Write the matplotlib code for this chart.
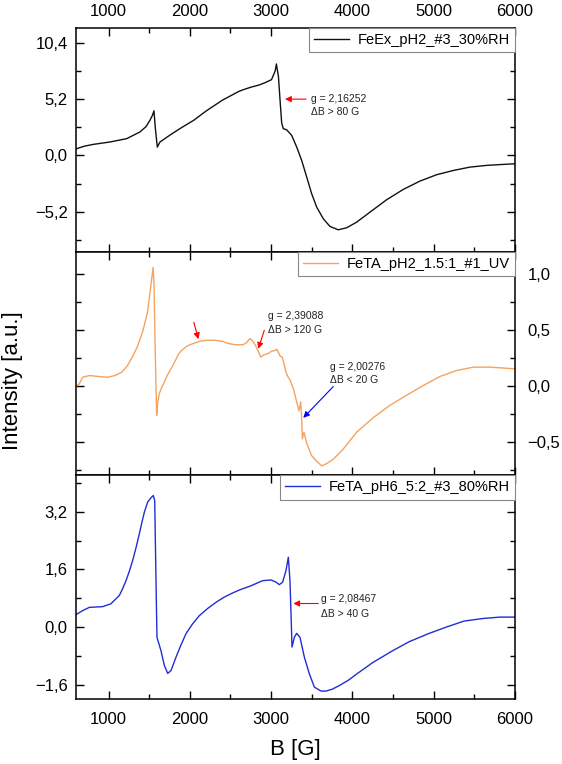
#!/usr/bin/env python3
"""
EPR spectra of three Fe samples, stacked panels
Output: out.png
"""

import matplotlib
matplotlib.use("Agg")
import matplotlib.pyplot as plt
import numpy as np

plt.rcParams['font.family'] = ['Liberation Sans', 'DejaVu Sans']

# =====================================
# Data
# =====================================
LABELS = ["FeEx_pH2_#3_30%RH", "FeTA_pH2_1.5:1_#1_UV", "FeTA_pH6_5:2_#3_80%RH"]
COLORS = ["#111111", "#F5A35E", "#1F2ED2"]

# top panel - black
B_EX = [600, 700, 813, 1018, 1224, 1387, 1460, 1510, 1540, 1559, 1575, 1600, 1633,
        1760, 1879, 2049, 2200, 2300, 2400, 2500, 2600, 2650, 2750, 2850, 2920,
        3005, 3050, 3065, 3090, 3110, 3130, 3150, 3191, 3253, 3315, 3376, 3438,
        3499, 3561, 3642, 3724, 3826, 3930, 4053, 4216, 4422, 4626, 4831, 5037,
        5241, 5446, 5652, 5830, 6000]
I_EX = [0.6, 0.85, 1.02, 1.24, 1.55, 2.17, 2.65, 3.25, 3.7, 4.12, 2.6, 0.77, 1.24,
        1.9, 2.48, 3.25, 4.1, 4.6, 5.1, 5.5, 5.9, 6.05, 6.3, 6.5, 6.7,
        7.0, 7.8, 8.45, 7.3, 5.1, 3.0, 2.47, 2.37, 1.85, 0.77, -0.46, -2.0,
        -3.54, -4.78, -5.85, -6.56, -6.87, -6.68, -6.16, -5.24, -4.09, -3.14, -2.37, -1.78,
        -1.39, -1.08, -0.92, -0.84, -0.77]

# middle panel - orange
B_UV = [600, 640, 680, 767, 900, 987, 1080, 1162, 1230, 1293, 1360, 1425, 1480,
        1513, 1535, 1549, 1560, 1575, 1592, 1605, 1622, 1650, 1700, 1733, 1780,
        1830, 1864, 1900, 1970, 2040, 2120, 2213, 2300, 2400, 2477, 2560, 2654,
        2700, 2740, 2765, 2785, 2810, 2830, 2850, 2873, 2910, 2960, 3000, 3050,
        3070, 3090, 3110, 3135, 3160, 3180, 3210, 3232, 3273, 3315, 3343, 3364,
        3376, 3384, 3404, 3438, 3499, 3561, 3622, 3684, 3766, 3888, 4052, 4257,
        4462, 4668, 4872, 5077, 5283, 5488, 5692, 6000]
I_UV = [0.0, 0.02, 0.08, 0.095, 0.085, 0.08, 0.095, 0.125, 0.18, 0.26, 0.36, 0.5, 0.66,
        0.85, 0.98, 1.06, 0.9, 0.3, -0.26, -0.15, -0.07, -0.02, 0.06, 0.11, 0.17,
        0.24, 0.29, 0.32, 0.36, 0.38, 0.40, 0.41, 0.41, 0.40, 0.38, 0.37, 0.37,
        0.39, 0.425, 0.41, 0.39, 0.36, 0.33, 0.30, 0.26, 0.28, 0.29, 0.31, 0.32,
        0.33, 0.30, 0.27, 0.26, 0.20, 0.13, 0.08, 0.057, -0.02, -0.14, -0.22, -0.14,
        -0.29, -0.47, -0.41, -0.51, -0.62, -0.67, -0.71, -0.69, -0.65, -0.56, -0.41, -0.28,
        -0.17, -0.08, 0.006, 0.087, 0.14, 0.17, 0.17, 0.155]

# bottom panel - blue
B_RH = [600, 682, 764, 928, 1030, 1133, 1170, 1215, 1256, 1297, 1338, 1379, 1410,
        1441, 1482, 1523, 1551, 1568, 1584, 1596, 1645, 1687, 1728, 1769, 1830,
        1890, 1953, 2030, 2117, 2220, 2322, 2420, 2527, 2630, 2732, 2896, 2999,
        3060, 3101, 3142, 3183, 3212, 3232, 3245, 3257, 3286, 3314, 3355, 3409,
        3470, 3532, 3614, 3675, 3750, 3837, 3950, 4057, 4250, 4496, 4700, 4934,
        5150, 5373, 5600, 5812, 6000]
I_RH = [0.35, 0.46, 0.55, 0.57, 0.65, 0.88, 1.05, 1.29, 1.55, 1.85, 2.2, 2.59, 2.9,
        3.19, 3.47, 3.59, 3.65, 3.51, 1.29, -0.28, -0.65, -1.06, -1.28, -1.2, -0.83,
        -0.5, -0.18, 0.08, 0.32, 0.52, 0.69, 0.83, 0.95, 1.05, 1.13, 1.29, 1.31,
        1.25, 1.18, 1.25, 1.57, 1.94, 1.29, 0.37, -0.55, -0.28, -0.17, -0.28, -0.83,
        -1.29, -1.66, -1.77, -1.77, -1.72, -1.62, -1.47, -1.29, -0.98, -0.65, -0.4, -0.18,
        0.0, 0.17, 0.24, 0.28, 0.28]

X_TICKS = [1000, 2000, 3000, 4000, 5000, 6000]
Y_TICKS = [[-5.2, 0.0, 5.2, 10.4], [-0.5, 0.0, 0.5, 1.0], [-1.6, 0.0, 1.6, 3.2]]
Y_LIMS = [(-8.89, 11.77), (-0.795, 1.20), (-1.99, 4.21)]
Y_MINOR = [2.6, 0.25, 0.8]


def fmt(v):
    s = f"{abs(v):.1f}".replace(".", ",")
    return ("\u2212" + s) if v < 0 else s


def style_axis(ax, i):
    ax.set_xlim(600, 6000)
    ax.set_ylim(*Y_LIMS[i])
    ax.set_xticks(X_TICKS)
    ax.set_xticks(np.arange(1500, 6000, 1000), minor=True)
    ax.set_yticks(Y_TICKS[i])
    ax.set_yticklabels([fmt(v) for v in Y_TICKS[i]])
    lo, hi = Y_LIMS[i]
    step = Y_MINOR[i]
    minors = [v for v in np.arange(-20 * step, 20 * step, step)
              if lo < v < hi and not any(abs(v - t) < 1e-6 for t in Y_TICKS[i])]
    ax.set_yticks(minors, minor=True)
    ax.tick_params(which='both', direction='in', top=True, bottom=True,
                   left=True, right=True, width=1.0, labelsize=12)
    ax.tick_params(which='major', length=5.5)
    ax.tick_params(which='minor', length=3.5)
    ax.tick_params(axis='y', pad=6)
    ax.tick_params(axis='x', pad=9.5)
    for sp in ax.spines.values():
        sp.set_linewidth(1.1)
    leg = ax.legend(loc='upper right', fontsize=10.5, borderaxespad=0,
                    fancybox=False, framealpha=1, edgecolor='#888888',
                    handlelength=2.4, borderpad=0.35, handletextpad=0.6)
    leg.get_frame().set_linewidth(0.8)


fig = plt.figure(figsize=(5.62, 7.64), dpi=100)
left, width = 76 / 562, (515 - 76) / 562
bottom, top = 1 - 699 / 764, 1 - 28 / 764
h = (top - bottom) / 3

axes = []
for i in range(3):
    ax = fig.add_axes([left, top - (i + 1) * h, width, h])
    axes.append(ax)

series = [(B_EX, I_EX), (B_UV, I_UV), (B_RH, I_RH)]
for i, (ax, (bx, iy)) in enumerate(zip(axes, series)):
    ax.plot(bx, iy, color=COLORS[i], lw=1.0, label=LABELS[i])
    style_axis(ax, i)

# tick label placement
axes[0].tick_params(labeltop=True, labelbottom=False)
axes[0].tick_params(axis='x', pad=6.5)
axes[1].tick_params(labelbottom=False, labelleft=False, labelright=True)
axes[1].tick_params(axis='y', pad=9)

# annotations
arrow_red = dict(arrowstyle='-|>', color='red', lw=0.8, mutation_scale=9,
                 shrinkA=0, shrinkB=0)
arrow_blue = dict(arrowstyle='-|>', color='blue', lw=0.8, mutation_scale=9,
                  shrinkA=0, shrinkB=0)
note = dict(fontsize=7.5, color='#222222', va='center', ha='left')

axes[0].annotate('', xy=(3171, 5.2), xytext=(3429, 5.2), arrowprops=arrow_red)
axes[0].text(3490, 5.2, 'g = 2,16252', **note)
axes[0].text(3490, 4.05, '\u0394B > 80 G', **note)

axes[1].annotate('', xy=(2106, 0.42), xytext=(2049, 0.57), arrowprops=arrow_red)
axes[1].annotate('', xy=(2842, 0.334), xytext=(2916, 0.498), arrowprops=arrow_red)
axes[1].text(2965, 0.625, 'g = 2,39088', **note)
axes[1].text(2965, 0.497, '\u0394B > 120 G', **note)
axes[1].annotate('', xy=(3396, -0.282), xytext=(3765, -0.003), arrowprops=arrow_blue)
axes[1].text(3724, 0.170, 'g = 2,00276', **note)
axes[1].text(3724, 0.057, '\u0394B < 20 G', **note)

axes[2].annotate('', xy=(3273, 0.657), xytext=(3581, 0.657), arrowprops=arrow_red)
axes[2].text(3610, 0.77, 'g = 2,08467', **note)
axes[2].text(3610, 0.37, '\u0394B > 40 G', **note)

fig.text(13 / 562, 1 - 381 / 764, 'Intensity [a.u.]', rotation=90,
         ha='center', va='center', fontsize=16)
fig.text((76 + 515) / 2 / 562, 1 - 750 / 764, 'B [G]', ha='center',
         va='center', fontsize=16)

fig.savefig("out.png", dpi=100)
